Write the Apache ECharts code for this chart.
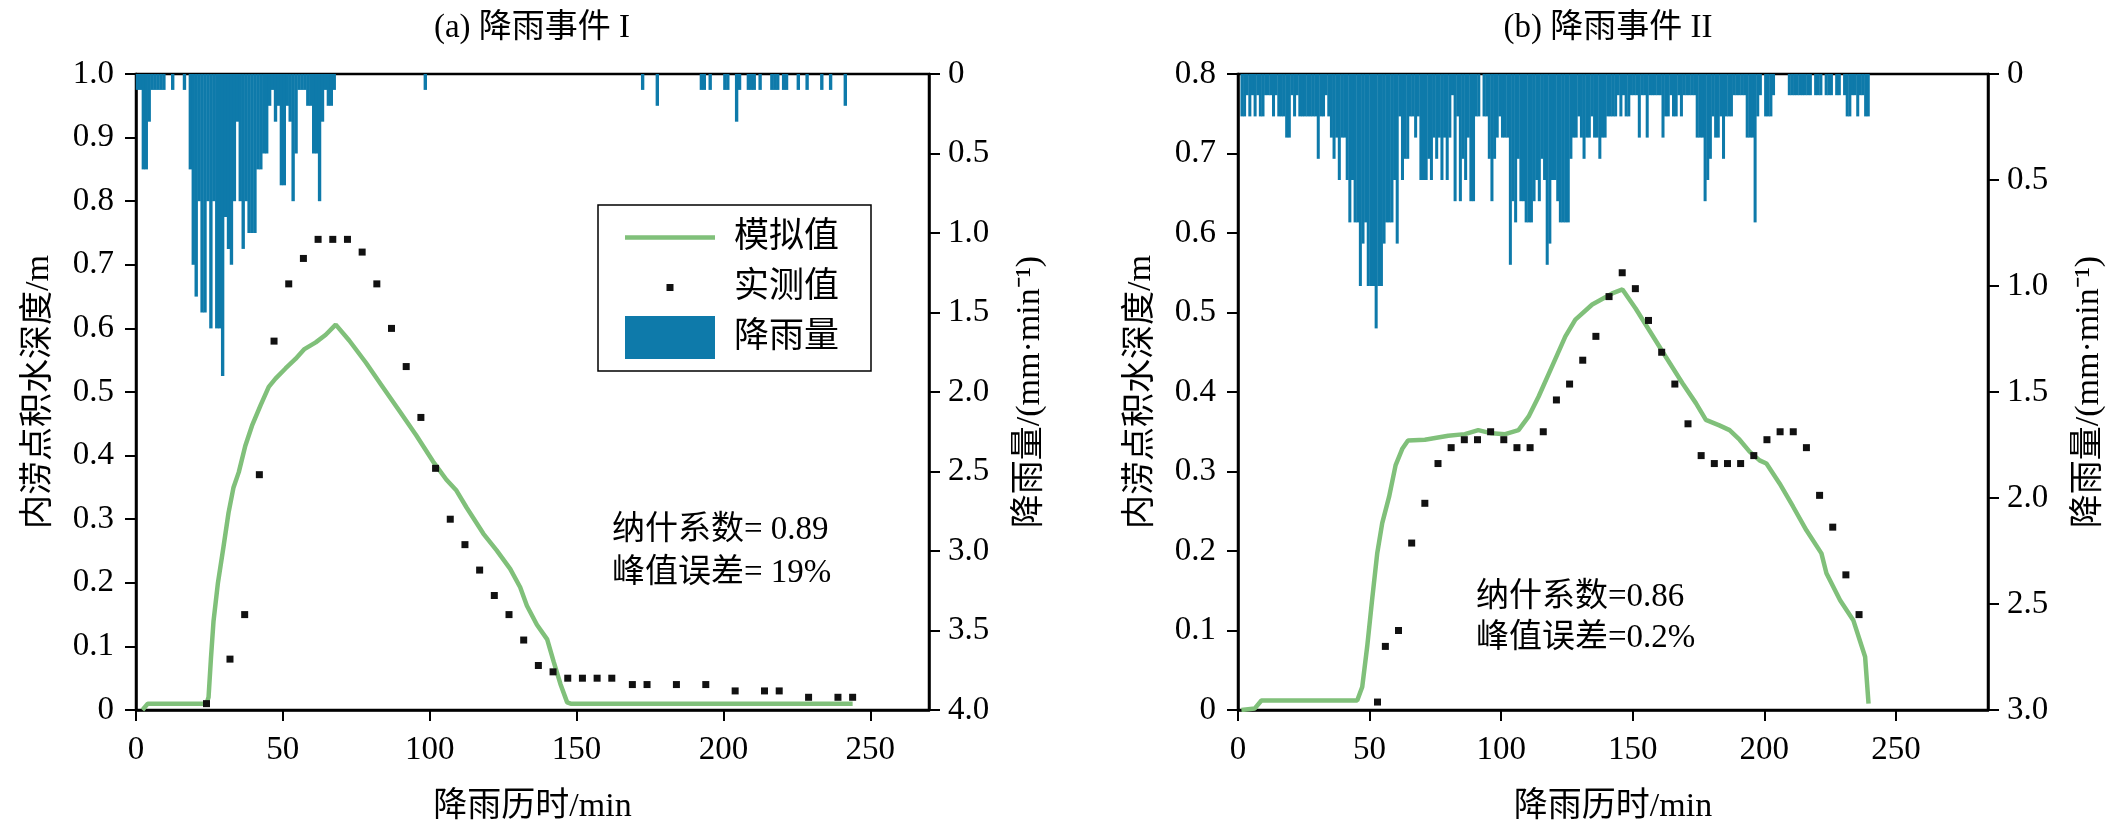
<!DOCTYPE html>
<html>
<head>
<meta charset="utf-8">
<script src="https://cdn.jsdelivr.net/npm/echarts@6/dist/echarts.min.js"></script>
<style>
html,body{margin:0;padding:0;background:#fff;}
#chart{width:2106px;height:835px;}
</style>
</head>
<body>
<div id="chart"></div>
<script>
// ---------------- data ----------------
// x-axis tick labels (min)
const xTicks = [0, 50, 100, 150, 200, 250];

// Event I rainfall (mm/min), minute 0..67 (dense), then sparse late bars
const rainA = [
  0.1,0.1,0.6,0.6,0.3,0.1,0.1,0.1,0.1,0.1,
  0,0,0.1,0,0,0,0.1,0,0.6,1.2,
  1.4,0.8,1.5,1.5,0.8,1.6,0.8,1.6,1.6,1.9,
  0.9,1.1,1.2,0.8,0.3,0.8,1.1,0.8,1.0,1.0,
  1.0,0.6,0.6,0.5,0.5,0.2,0.1,0.3,0.2,0.7,
  0.7,0.2,0.3,0.8,0.5,0.1,0.1,0.1,0.2,0.2,
  0.5,0.5,0.8,0.3,0.1,0.2,0.2,0.1
];
const rainLateMinA = [98,172,177,192,193,195,200,201,204,205,208,209,210,212,216,217,218,220,221,225,228,233,236,241];
const rainLateMmA  = [0.1,0.1,0.2,0.1,0.1,0.1,0.1,0.1,0.3,0.1,0.1,0.1,0.1,0.1,0.1,0.1,0.1,0.1,0.1,0.1,0.1,0.1,0.1,0.2];

// Event I simulated depth (m)
const simTimeA = [2.2,4,24,24.7,25.5,26.4,27.9,29.8,31.5,33.2,35,37.2,39.5,42.4,45.2,47.5,50.9,54.3,57.2,61.2,64.6,68,72.6,78.3,84,89.7,95.4,101.1,105.7,109.1,112.6,118.3,122.8,127.4,130.8,133.1,136.5,140,142.2,144.5,146.8,148,244];
const simValA  = [0,0.01,0.01,0.02,0.08,0.14,0.2,0.257,0.31,0.35,0.374,0.415,0.447,0.479,0.508,0.521,0.537,0.552,0.567,0.578,0.59,0.606,0.581,0.546,0.508,0.47,0.432,0.391,0.362,0.345,0.318,0.277,0.251,0.222,0.193,0.164,0.134,0.111,0.076,0.041,0.012,0.01,0.01];

// Event I observed depth (m)
const obsTimeA = [24,32,37,42,47,52,57,62,67,72,77,82,87,92,97,102,107,112,117,122,127,132,137,142,147,152,157,162,169,174,184,194,204,214,219,229,239,244];
const obsValA  = [0.01,0.08,0.15,0.37,0.58,0.67,0.71,0.74,0.74,0.74,0.72,0.67,0.60,0.54,0.46,0.38,0.30,0.26,0.22,0.18,0.15,0.11,0.07,0.06,0.05,0.05,0.05,0.05,0.04,0.04,0.04,0.04,0.03,0.03,0.03,0.02,0.02,0.02];

// Event II rainfall (mm/min), minute 0..239
const rainB = [
  0,0.2,0.2,0.1,0.2,0.1,0.2,0.1,0.2,0.2,
  0.1,0.1,0.1,0.2,0.1,0.2,0.2,0.2,0.3,0.3,
  0.1,0.2,0.1,0.2,0.2,0.2,0.2,0.2,0.2,0.2,
  0.4,0.2,0.2,0.1,0.2,0.3,0.4,0.3,0.5,0.3,
  0.3,0.5,0.7,0.5,0.7,0.7,1.0,0.8,0.7,1.0,
  1.0,1.0,1.2,1.0,1.0,0.8,0.7,0.7,0.7,0.5,
  0.8,0.2,0.5,0.4,0.4,0.2,0.2,0.3,0.2,0.5,
  0.5,0.5,0.4,0.5,0.3,0.4,0.3,0.5,0.3,0.5,
  0.3,0.1,0.6,0.2,0.6,0.4,0.5,0.3,0.6,0.6,
  0.2,0.2,0,0.2,0.2,0.4,0.6,0.4,0.3,0.2,
  0.3,0.3,0.3,0.9,0.6,0.7,0.4,0.6,0.6,0.7,
  0.7,0.7,0.6,0.5,0.6,0.4,0.5,0.9,0.8,0.5,
  0.5,0.6,0.7,0.7,0.7,0.7,0.4,0.3,0.3,0.2,
  0.3,0.4,0.3,0.3,0.2,0.3,0.3,0.4,0.3,0.3,
  0.2,0.2,0.2,0.2,0.1,0.2,0.1,0.2,0.2,0.1,
  0.1,0.1,0.3,0.1,0.1,0.3,0.1,0.1,0.1,0.1,
  0.1,0.3,0.2,0.2,0.1,0.2,0.2,0.1,0.2,0.1,
  0.1,0.1,0.1,0.1,0.3,0.3,0.3,0.6,0.5,0.4,
  0.2,0.3,0.3,0.2,0.4,0.2,0.2,0.2,0.1,0.1,
  0.1,0.1,0.1,0.3,0.3,0.3,0.7,0.2,0.1,0,
  0.2,0.2,0.2,0.1,0,0,0,0,0,0.1,
  0.1,0.1,0.1,0.1,0.1,0.1,0.1,0.1,0,0.1,
  0.1,0.1,0,0.1,0.1,0.1,0,0.1,0.1,0,
  0.1,0.2,0.2,0.1,0.1,0.2,0.1,0.1,0.2,0.2
];

// Event II simulated depth (m)
const simTimeB = [1.3,6.4,8.9,45.3,47.2,49.1,51,52.9,54.8,57.4,59.9,62.5,64.6,71,79.9,86.2,91.3,96.4,101.5,106.6,110.4,114.2,119.3,124.4,128.2,134.6,142.2,146.1,151.1,156.2,162.6,168.9,174,177.8,182.9,186.8,190.6,194.4,198.2,200.8,205.8,210.9,216,221.7,223.6,228.8,233.8,238.3,239.6];
const simValB  = [0,0.002,0.012,0.012,0.029,0.08,0.14,0.197,0.235,0.268,0.308,0.329,0.339,0.34,0.345,0.347,0.352,0.348,0.347,0.352,0.369,0.394,0.432,0.47,0.491,0.51,0.524,0.529,0.505,0.478,0.444,0.411,0.386,0.365,0.358,0.352,0.34,0.325,0.314,0.31,0.285,0.256,0.226,0.197,0.172,0.138,0.113,0.067,0.008];

// Event II observed depth (m)
const obsTimeB = [53,56,61,66,71,76,81,86,91,96,101,106,111,116,121,126,131,136,141,146,151,156,161,166,171,176,181,186,191,196,201,206,211,216,221,226,231,236];
const obsValB  = [0.01,0.08,0.10,0.21,0.26,0.31,0.33,0.34,0.34,0.35,0.34,0.33,0.33,0.35,0.39,0.41,0.44,0.47,0.52,0.55,0.53,0.49,0.45,0.41,0.36,0.32,0.31,0.31,0.31,0.32,0.34,0.35,0.35,0.33,0.27,0.23,0.17,0.12];

// ---------------- build ----------------
const FONT = '"Liberation Serif", "Times New Roman", "Noto Sans CJK SC", serif';
const BLUE = '#0e7aaa';
const GREEN = '#80c07a';

const rainPairsA = rainA.map((v, i) => [i + 0.5, v])
  .concat(rainLateMinA.map((m, i) => [m + 0.5, rainLateMmA[i]]));
const rainPairsB = rainB.map((v, i) => [i + 0.5, v]);
const zip = (t, v) => t.map((x, i) => [x, v[i]]);

const fmt1 = v => (v === 0 ? '0' : v.toFixed(1));

function xAxisOpt(gi, max) {
  return {
    type: 'value', gridIndex: gi, min: 0, max: max, interval: 50,
    axisLine: { show: true, onZero: false, lineStyle: { color: '#000', width: 2.5 } },
    axisTick: { show: true, length: 11, lineStyle: { color: '#000', width: 2 }, customValues: xTicks },
    axisLabel: { color: '#000', fontSize: 33, fontFamily: FONT, margin: 24, customValues: xTicks },
    splitLine: { show: false },
    name: '降雨历时/min', nameLocation: 'middle', nameGap: 80,
    nameTextStyle: { color: '#000', fontSize: 34, fontFamily: FONT }
  };
}
function yAxisOpt(gi, pos, max, interval, inverse, name, gap) {
  return {
    type: 'value', gridIndex: gi, position: pos, min: 0, max: max, interval: interval, inverse: inverse,
    axisLine: { show: true, onZero: false, lineStyle: { color: '#000', width: 2.5 } },
    axisTick: { show: true, length: 11, lineStyle: { color: '#000', width: 2 } },
    axisLabel: { color: '#000', fontSize: 33, fontFamily: FONT, margin: pos === 'left' ? 22 : 19, formatter: fmt1 },
    splitLine: { show: false },
    name: name, nameLocation: 'middle', nameGap: gap,
    nameTextStyle: { color: '#000', fontSize: 34, fontFamily: FONT }
  };
}
function txt(text, x, y, align) {
  return {
    type: 'text', x: x, y: y, z: 100,
    style: {
      text: text, fill: '#000', font: '33px ' + FONT,
      textAlign: align, align: align, textVerticalAlign: 'middle', verticalAlign: 'middle'
    }
  };
}

const gridBase = { show: true, borderColor: '#000', borderWidth: 2.5, backgroundColor: 'transparent', containLabel: false, outerBoundsMode: 'none' };

const option = {
  animation: false,
  backgroundColor: '#fff',
  grid: [
    Object.assign({ left: 136, top: 74, width: 793, height: 636 }, gridBase),
    Object.assign({ left: 1238, top: 74, width: 750, height: 636 }, gridBase)
  ],
  xAxis: [xAxisOpt(0, 270), xAxisOpt(1, 285)],
  yAxis: [
    yAxisOpt(0, 'left', 1.0, 0.1, false, '内涝点积水深度/m', 80),
    yAxisOpt(0, 'right', 4.0, 0.5, true, '降雨量/(mm·min⁻¹)', 84),
    yAxisOpt(1, 'left', 0.8, 0.1, false, '内涝点积水深度/m', 80),
    yAxisOpt(1, 'right', 3.0, 0.5, true, '降雨量/(mm·min⁻¹)', 84)
  ],
  legend: {
    orient: 'vertical', left: 598, top: 205,
    itemWidth: 90, itemHeight: 43, itemGap: 7,
    padding: [11, 32, 12, 27],
    borderColor: '#000', borderWidth: 1.5, backgroundColor: '#fff',
    textStyle: { color: '#000', fontSize: 35, fontFamily: FONT, padding: [0, 0, 0, 14] },
    data: [
      { name: '模拟值', icon: 'path://M0,19.25h90v4.5h-90zM0,0h0.05v0.05h-0.05zM89.95,42.95h0.05v0.05h-0.05z', itemStyle: { color: GREEN } },
      { name: '实测值', icon: 'path://M0,0h0.05v0.05h-0.05zM41.5,18h7v7h-7zM89.95,42.95h0.05v0.05h-0.05z' },
      { name: '降雨量', icon: 'rect' }
    ]
  },
  graphic: [
    txt('(a) 降雨事件 I', 532, 28, 'center'),
    txt('(b) 降雨事件 II', 1608, 28, 'center'),
    txt('纳什系数= 0.89', 612, 530, 'left'),
    txt('峰值误差= 19%', 612, 573, 'left'),
    txt('纳什系数=0.86', 1476, 597, 'left'),
    txt('峰值误差=0.2%', 1476, 638, 'left')
  ],
  series: [
    { name: '降雨量', type: 'bar', xAxisIndex: 0, yAxisIndex: 1, data: rainPairsA, barWidth: '115%', itemStyle: { color: BLUE }, z: 1 },
    { name: '模拟值', type: 'line', xAxisIndex: 0, yAxisIndex: 0, data: zip(simTimeA, simValA), symbol: 'none', showSymbol: false, lineStyle: { color: GREEN, width: 4.5 }, itemStyle: { color: GREEN }, z: 3 },
    { name: '实测值', type: 'scatter', xAxisIndex: 0, yAxisIndex: 0, data: zip(obsTimeA, obsValA), symbol: 'rect', symbolSize: 7, itemStyle: { color: '#111', opacity: 1 }, z: 4 },
    { name: '降雨量', type: 'bar', xAxisIndex: 1, yAxisIndex: 3, data: rainPairsB, barWidth: '115%', itemStyle: { color: BLUE }, z: 1 },
    { name: '模拟值', type: 'line', xAxisIndex: 1, yAxisIndex: 2, data: zip(simTimeB, simValB), symbol: 'none', showSymbol: false, lineStyle: { color: GREEN, width: 4.5 }, itemStyle: { color: GREEN }, z: 3 },
    { name: '实测值', type: 'scatter', xAxisIndex: 1, yAxisIndex: 2, data: zip(obsTimeB, obsValB), symbol: 'rect', symbolSize: 7, itemStyle: { color: '#111', opacity: 1 }, z: 4 }
  ]
};

const chart = echarts.init(document.getElementById('chart'), null, { renderer: 'canvas' });
chart.setOption(option);
</script>
</body>
</html>
